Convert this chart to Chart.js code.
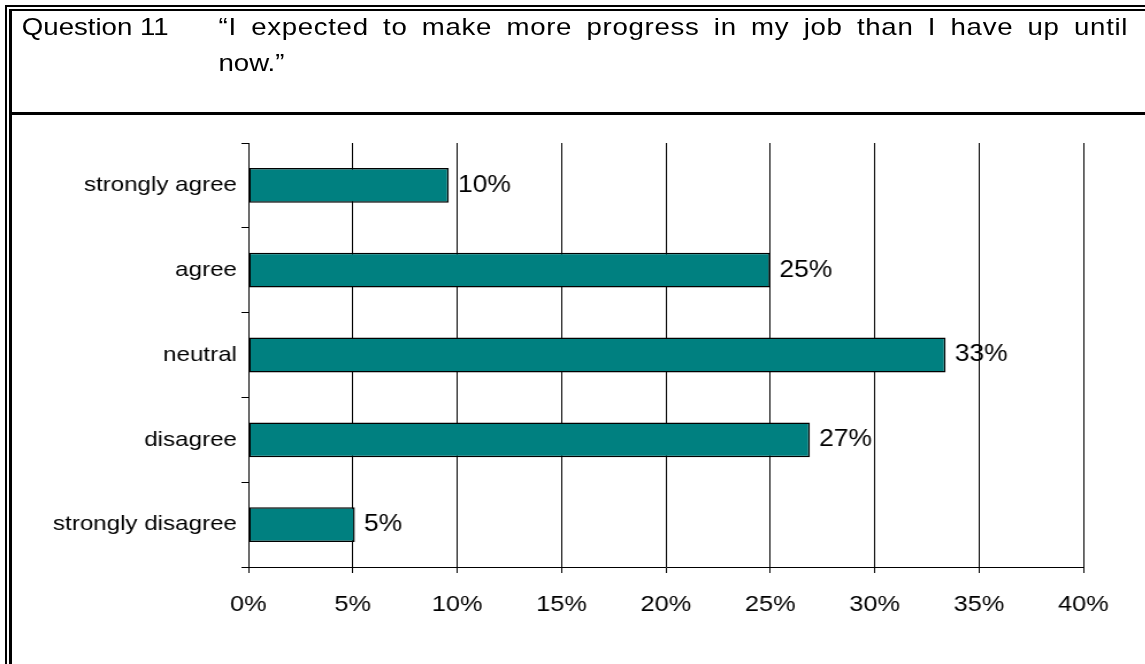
<!DOCTYPE html>
<html>
<head>
<meta charset="utf-8">
<script src="https://cdn.jsdelivr.net/npm/chart.js@4.4.0/dist/chart.umd.min.js"></script>
<style>
  html, body { margin: 0; padding: 0; background: #fff; overflow: hidden; }
  body { width: 1145px; height: 664px; position: relative; font-family: "Liberation Sans", Arial, sans-serif; color: #000; }
  .rule { position: absolute; background: #000; }
  /* everything inside is laid out narrow and widened horizontally */
  .stretch { position: absolute; left: 0; top: 0; width: 996px; height: 664px; transform: scaleX(1.15); transform-origin: 0 0; }
  .hdr { position: absolute; font-size: 24px; line-height: 24px; white-space: nowrap; }
  .qnum { left: 19px; top: 15px; }
  .qline1 { left: 190px; top: 15px; width: 791px; text-align: justify; text-align-last: justify; white-space: normal; letter-spacing: 0.6px; }
  .qline2 { left: 190px; top: 51px; }
  #chart { position: absolute; left: 0; top: 115px; }
</style>
</head>
<body>
<div class="rule" style="left:5px;top:5px;width:1140px;height:2px"></div>
<div class="rule" style="left:9px;top:9px;width:1136px;height:2px"></div>
<div class="rule" style="left:5px;top:5px;width:2px;height:659px"></div>
<div class="rule" style="left:9px;top:9px;width:3px;height:655px"></div>
<div class="rule" style="left:12px;top:112px;width:1133px;height:3px"></div>

<div class="stretch">
  <div class="hdr qnum">Question 11</div>
  <div class="hdr qline1">“I expected to make more progress in my job than I have up until</div>
  <div class="hdr qline2">now.”</div>
  <canvas id="chart" width="996" height="549"></canvas>
</div>

<script>
// ── Data ─────────────────────────────────────────────
const categories = ['strongly agree', 'agree', 'neutral', 'disagree', 'strongly disagree'];
const shares     = [9.6, 25.0, 33.4, 26.9, 5.1];
const xTicks     = [0, 5, 10, 15, 20, 25, 30, 35, 40];

const FONT = "'Liberation Sans', Arial, sans-serif";

// ── Value labels at the end of each bar ──────────────
const valueLabels = {
  id: 'valueLabels',
  afterDatasetsDraw(chart) {
    const ctx  = chart.ctx;
    const meta = chart.getDatasetMeta(0);
    ctx.save();
    ctx.font = '23px ' + FONT;
    ctx.fillStyle = '#000';
    ctx.textAlign = 'left';
    ctx.textBaseline = 'middle';
    meta.data.forEach((bar, i) => {
      ctx.fillText(Math.round(shares[i]) + '%', bar.x + 8, bar.y);
    });
    ctx.restore();
  }
};

// ── Bar Chart ────────────────────────────────────────
new Chart(document.getElementById('chart'), {
  type: 'bar',
  data: {
    labels: categories,
    datasets: [{
      data: shares,
      backgroundColor: '#008080',
      borderColor: '#000',
      borderWidth: 1.5,
      borderSkipped: false,
      barPercentage: 0.41,
      categoryPercentage: 1
    }]
  },
  options: {
    indexAxis: 'y',
    animation: false,
    responsive: false,
    devicePixelRatio: 1,
    layout: { padding: { left: 0, right: 54, top: 28, bottom: 0 } },
    plugins: { legend: { display: false }, tooltip: { enabled: false } },
    scales: {
      x: {
        min: 0, max: 40,
        afterBuildTicks: s => { s.ticks = xTicks.map(v => ({ value: v })); },
        afterFit: s => { s.height = 97; },
        ticks: { color: '#000', font: { family: FONT, size: 22 }, padding: 19, callback: v => v + '%' },
        grid: { color: '#000', lineWidth: 1, tickLength: 6 },
        border: { color: '#000', width: 1 }
      },
      y: {
        afterFit: s => { s.width = 216; },
        ticks: { color: '#000', font: { family: FONT, size: 21 }, padding: 4 },
        grid: { color: '#000', lineWidth: 1, tickLength: 6, drawOnChartArea: false, offset: true },
        border: { color: '#000', width: 1 }
      }
    }
  },
  plugins: [valueLabels]
});
</script>
</body>
</html>
